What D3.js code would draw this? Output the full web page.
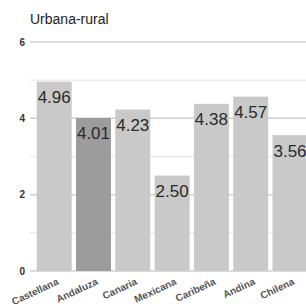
<!DOCTYPE html>
<html>
<head>
<meta charset="utf-8">
<script src="https://cdn.jsdelivr.net/npm/d3@7"></script>
<style>
  body { margin: 0; background: #fff; }
  svg { display: block; font-family: "Liberation Sans", Arial, sans-serif; }
</style>
</head>
<body>
<svg id="chart" width="306" height="307"></svg>
<script>
const categories = ["Castellana", "Andaluza", "Canaria", "Mexicana", "Caribeña", "Andina", "Chilena"];
const values = [4.96, 4.01, 4.23, 2.50, 4.38, 4.57, 3.56];
const highlighted = ["Andaluza"];
const yTicks = [0, 2, 4, 6];
const title = "Urbana-rural";

const width = 306, height = 307;
const svg = d3.select("#chart");

const x = d3.scaleBand()
    .domain(categories)
    .range([36.7, 307.5])
    .paddingInner(0.11)
    .paddingOuter(0);

const y = d3.scaleLinear()
    .domain([0, 6])
    .range([271, 42]);

// gridlines, lighter on the odd values
svg.append("g")
    .selectAll("line")
    .data(d3.range(0, 7))
    .enter().append("line")
    .attr("x1", 30)
    .attr("x2", width)
    .attr("y1", d => y(d))
    .attr("y2", d => y(d))
    .attr("stroke", d => d % 2 === 0 ? "#cfcfcf" : "#ebebeb")
    .attr("stroke-width", 1.5);

// y tick labels
svg.append("g")
    .selectAll("text")
    .data(yTicks)
    .enter().append("text")
    .attr("x", 25)
    .attr("y", d => y(d))
    .attr("dy", "0.35em")
    .attr("text-anchor", "end")
    .attr("font-size", 10)
    .attr("font-weight", "bold")
    .attr("fill", "#333")
    .text(d => d);

// bars
svg.append("g")
    .selectAll("rect")
    .data(categories)
    .enter().append("rect")
    .attr("x", d => x(d))
    .attr("y", (d, i) => y(values[i]))
    .attr("width", x.bandwidth())
    .attr("height", (d, i) => y(0) - y(values[i]))
    .attr("fill", d => highlighted.includes(d) ? "#9c9c9c" : "#c9c9c9");

// value labels
svg.append("g")
    .selectAll("text")
    .data(categories)
    .enter().append("text")
    .attr("x", d => x(d) + x.bandwidth() / 2)
    .attr("y", (d, i) => y(values[i]) + 21.5)
    .attr("text-anchor", "middle")
    .attr("font-size", 17)
    .attr("fill", "#2a2a2a")
    .text((d, i) => values[i].toFixed(2));

// category labels
svg.append("g")
    .selectAll("text")
    .data(categories)
    .enter().append("text")
    .attr("transform", d => `translate(${x(d) + x.bandwidth() / 2 + 5},${284}) rotate(-25)`)
    .attr("text-anchor", "end")
    .attr("font-size", 10)
    .attr("font-weight", "bold")
    .attr("fill", "#555")
    .text(d => d);

// title
svg.append("text")
    .attr("x", 30)
    .attr("y", 23.5)
    .attr("font-size", 14)
    .attr("fill", "#222")
    .text(title);
</script>
</body>
</html>
